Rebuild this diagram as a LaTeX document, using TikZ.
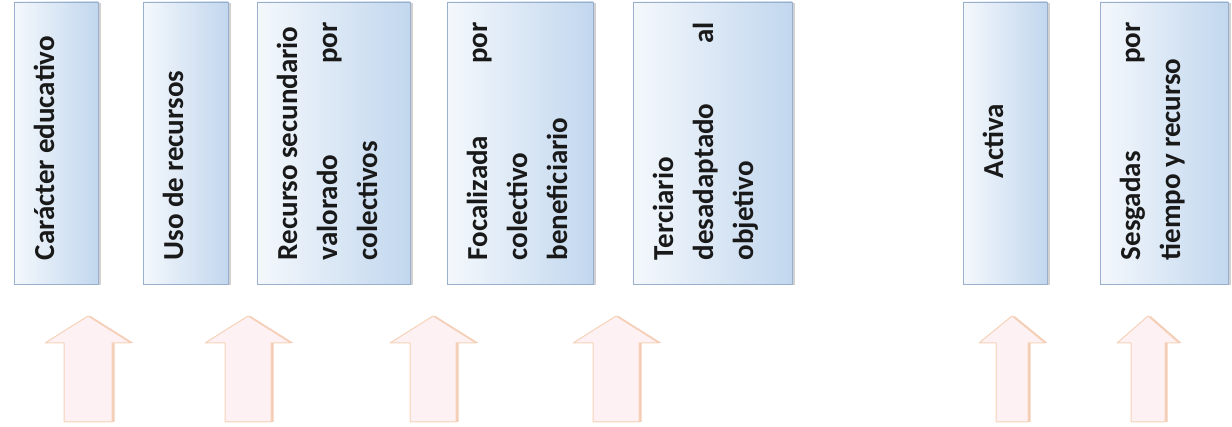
\documentclass[tikz,border=0pt]{standalone}
\usepackage{fontspec}
\setmainfont{Carlito}
\usepackage{tikz}
\usetikzlibrary{shadows}

\definecolor{cajaclara}{HTML}{F4F8FC}
\definecolor{cajamedia}{HTML}{E2ECF7}
\definecolor{cajaazul}{HTML}{C2D7EE}
\definecolor{cajaborde}{HTML}{9AAFCB}
\definecolor{flechafondo}{HTML}{FDF1F4}
\definecolor{flechaborde}{HTML}{F6D2B8}
\definecolor{flechasombra}{HTML}{F0BFA3}

\tikzset{
  caja/.style={draw=cajaborde, line width=0.8pt, left color=cajaclara, middle color=cajamedia,
    right color=cajaazul, minimum height=282pt, inner sep=0pt,
    drop shadow={shadow xshift=2.5pt, shadow yshift=-1.5pt, fill=black!40, opacity=.45}},
  rotulo/.style={rotate=90, anchor=north west, text width=238pt, align=left,
    inner xsep=24pt, inner ysep=20pt, text=black!90,
    font=\bfseries\fontsize{29}{40}\selectfont,
    execute at begin node={\spaceskip=0.21em plus 0.05em\relax}},
  flecha/.style={draw=flechaborde, line width=1pt, fill=flechafondo, line join=round,
    drop shadow={shadow xshift=2.5pt, shadow yshift=0pt, fill=flechasombra, opacity=.8}}
}

\begin{document}
\begin{tikzpicture}[x=1pt, y=-1pt]
\useasboundingbox (0,0) rectangle (1232,427);
% cajas
\node[caja, minimum width=84pt]  (caracter)  at (56,143)    {};
\node[caja, minimum width=85pt]  (uso)       at (185.5,143) {};
\node[caja, minimum width=153pt] (recurso)   at (333.5,143) {};
\node[caja, minimum width=146pt] (focal)     at (520,143)   {};
\node[caja, minimum width=159pt] (terciario) at (712.5,143) {};
\node[caja, minimum width=84pt]  (activa)    at (1005,143)  {};
\node[caja, minimum width=128pt] (sesgadas)  at (1164,143)  {};
% textos
\node[rotulo] (tcaracter)  at (caracter.south west)  {Carácter educativo};
\node[rotulo] (tuso)       at (uso.south west)       {Uso de recursos};
\node[rotulo] (trecurso)   at (recurso.south west)   {Recurso secundario\\valorado\hfill por\\colectivos};
\node[rotulo] (tfocal)     at (focal.south west)     {Focalizada\hfill por\\colectivo\\beneficiario};
\node[rotulo] (tterciario) at (terciario.south west) {Terciario\\desadaptado\hfill al\\objetivo};
\node[rotulo, align=center] (tactiva) at (activa.south west) {Activa};
\node[rotulo] (tsesgadas)  at (sesgadas.south west)  {Sesgadas\hfill por\\tiempo y recurso};
% flechas
\foreach \cx/\hw/\sw in {88/43/24, 248/43/23, 433/43/23, 616/43/23, 1012/33/16, 1148/31/17} {
  \draw[flecha] (\cx,316) -- (\cx+\hw,343) -- (\cx+\sw,343) -- (\cx+\sw,422)
    -- (\cx-\sw,422) -- (\cx-\sw,343) -- (\cx-\hw,343) -- cycle;
}
\end{tikzpicture}
\end{document}
